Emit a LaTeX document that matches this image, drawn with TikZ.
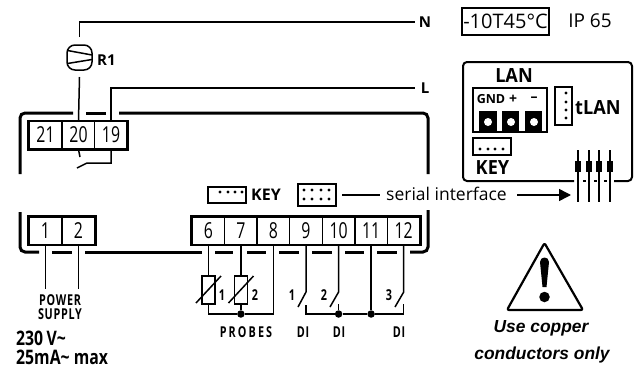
\documentclass[tikz,border=0pt]{standalone}
\usepackage{fontspec}
\usepackage{tikz}
\usetikzlibrary{calc,arrows.meta,positioning}
\newfontfamily\condfont[FakeStretch=0.72]{Open Sans}
\newfontfamily\tagfont[FakeStretch=0.72,LetterSpace=5]{Open Sans}
\newfontfamily\probefont[FakeStretch=0.72,LetterSpace=14]{Open Sans}
\newfontfamily\ratefont[FakeStretch=0.79]{Open Sans}
\newfontfamily\bigfont[FakeStretch=0.93]{Open Sans}
\newfontfamily\openfont{Open Sans}
\newfontfamily\arialfont{Liberation Sans}
\tikzstyle{terminal}=[draw,line width=1.3pt,minimum width=32.6pt,minimum height=28pt,inner sep=0pt,font=\condfont\fontsize{22}{22}\selectfont]
\tikzstyle{frame}=[line width=3pt,line cap=butt,line join=miter]
\tikzstyle{case}=[line width=3pt]
\tikzstyle{wire}=[line width=1.5pt]
\tikzstyle{resistor}=[draw,line width=1.5pt,minimum width=13pt,minimum height=28pt,inner sep=0pt]
\tikzstyle{junction}=[circle,fill=black,minimum size=7.5pt,inner sep=0pt]
\tikzstyle{pin}=[circle,fill=black,minimum size=3.2pt,inner sep=0pt]
\tikzstyle{plug}=[draw,line width=1.4pt,inner sep=0pt]
\tikzstyle{tag}=[inner sep=0pt,font=\tagfont\bfseries\fontsize{15}{15}\selectfont]
\tikzstyle{small}=[inner sep=0pt,font=\openfont\bfseries\fontsize{15}{15}\selectfont]
\tikzstyle{big}=[inner sep=0pt,font=\bigfont\bfseries\fontsize{19.5}{19.5}\selectfont]
\tikzstyle{rating}=[inner sep=0pt,anchor=west,font=\ratefont\bfseries\fontsize{20}{20}\selectfont]
\tikzstyle{screw}=[fill=black,inner sep=0pt,minimum height=21pt]
\tikzstyle{hole}=[circle,fill=white,minimum size=8pt,inner sep=0pt]
\tikzstyle{note}=[inner sep=0pt,font=\arialfont\bfseries\itshape\fontsize{17.4}{17.4}\selectfont]
\begin{document}
\begin{tikzpicture}[x=1pt,y=-1pt]
\useasboundingbox (0,0) rectangle (641,370);
% case
\draw[case,rounded corners=5pt] (20,174) -- (20,113) -- (73,113);
\draw[case] (86,113) -- (106,113);
\draw[case,rounded corners=5pt] (119,113) -- (428,113) -- (428,174);
\draw[case,rounded corners=5pt] (20,212) -- (20,252) -- (39,252);
\draw[case] (52,252) -- (72,252);
\draw[case] (85,252) -- (202,252);
\draw[case] (215,252) -- (233,252);
\draw[case] (247,252) -- (266,252);
\draw[case] (279,252) -- (299,252);
\draw[case] (312,252) -- (332,252);
\draw[case] (345,252) -- (364,252);
\draw[case] (377,252) -- (397,252);
\draw[case,rounded corners=5pt] (410,252) -- (428,252) -- (428,210);
% terminals
\draw (45.5, 135) node [terminal] (t21) {21};
\draw (78.5, 135) node [terminal] (t20) {20};
\draw (111, 135) node [terminal] (t19) {19};
\draw (45.5, 231) node [terminal] (t1) {1};
\draw (78.5, 231) node [terminal] (t2) {2};
\draw (208.3, 231) node [terminal] (t6) {6};
\draw (240.9, 231) node [terminal] (t7) {7};
\draw (273.4, 231) node [terminal] (t8) {8};
\draw (306, 231) node [terminal] (t9) {9};
\draw (338.6, 231) node [terminal] (t10) {10};
\draw (371.1, 231) node [terminal] (t11) {11};
\draw (403.7, 231) node [terminal] (t12) {12};
\draw[frame] (t21.north west) -- (t21.south west) -- (t19.south east) -- (t19.north east);
\draw[frame] (t1.south west) -- (t1.north west) -- (t2.north east) -- (t2.south east);
\draw[frame] (t6.south west) -- (t6.north west) -- (t12.north east) -- (t12.south east);
% supply side
\draw (60, 300) node [tag] (power) {POWER};
\draw (60, 314) node [tag] (supply) {SUPPLY};
\coordinate (c1) at (45.5,289);
\coordinate (c2) at (78.5,289);
\draw[wire] (t1.south) -- (c1);
\draw[wire] (t2.south) -- (c2);
\draw (16, 338) node [rating] (volt) {230\,V\char"007E};
\draw (16, 357) node [rating] (amp) {25mA\char"007E{} max};
% N, L and R1
\draw (79.5, 57.5) node [draw,line width=1.5pt,rounded corners=8pt,minimum width=25pt,minimum height=25pt,inner sep=0pt] (r1) {};
\draw[wire] (67.5,50.5) -- (92,55);
\draw[wire] (67.5,63.5) -- (92,59.5);
\draw (97, 60) node [small,anchor=west] (r1label) {R1};
\draw (425, 22) node [small] (n) {N};
\draw (425, 88) node [small] (l) {L};
\coordinate (nend) at (79.5,37);
\coordinate (rlow) at (79.5,77);
\draw[wire] (nend) |- (415,22);
\draw[wire] (rlow) -- (t20.north);
\draw[wire] (t19.north) |- (415,88);
% relay contact
\coordinate (s20) at (80,157);
\coordinate (s19) at (77,168);
\draw[wire] (t20.south) -- (s20);
\draw[wire] (t19.south) -- (111,163) -- (87,163) -- (s19);
% probes
\draw (208.3, 290) node [resistor] (p1) {};
\draw (240.9, 290) node [resistor] (p2) {};
\draw (240.9, 314) node [junction] (j1) {};
\draw[wire] (t6.south) -- (p1.north);
\draw[wire] (t7.south) -- (p2.north);
\draw[wire] (p1.south) |- (j1);
\draw[wire] (p2.south) -- (j1);
\draw[wire] (j1) -| (t8.south);
\draw[wire] (196,303) -- (221,276);
\draw[wire] (228.5,303) -- (253.5,276);
\draw (222, 295) node [tag] (p1label) {1};
\draw (255, 295) node [tag] (p2label) {2};
\draw (246, 332) node [inner sep=0pt,font=\probefont\bfseries\fontsize{15}{15}\selectfont] (probes) {PROBES};
% digital inputs
\draw (338.6, 314) node [junction] (j2) {};
\draw (371.1, 314) node [junction] (j3) {};
\coordinate (a9) at (306,292);
\coordinate (a10) at (338.6,292);
\coordinate (a12) at (403.7,292);
\coordinate (b9) at (306,305);
\coordinate (b10) at (338.6,304);
\coordinate (b12) at (403.7,304);
\draw[wire] (t9.south) -- (a9) -- (298,307);
\draw[wire] (t10.south) -- (a10) -- (330,307);
\draw[wire] (t12.south) -- (a12) -- (395,307);
\draw[wire] (t11.south) -- (j3);
\draw[wire] (b10) -- (j2);
\draw[wire] (b9) |- (j2);
\draw[wire] (j2) -- (j3);
\draw[wire] (j3) -| (b12);
\draw (292, 295) node [tag] (d1label) {1};
\draw (324, 295) node [tag] (d2label) {2};
\draw (389, 295) node [tag] (d3label) {3};
\draw (303, 332) node [tag] (di1) {DI};
\draw (339, 332) node [tag] (di2) {DI};
\draw (399, 332) node [tag] (di3) {DI};
% key and serial plugs
\draw (227, 195) node [plug,minimum width=38pt,minimum height=16pt] (key) {};
\draw (220, 192) node [pin] {};
\draw (228, 192) node [pin] {};
\draw (235, 192) node [pin] {};
\draw (242, 192) node [pin] {};
\draw (251, 194.5) node [small,anchor=west,font=\openfont\bfseries\fontsize{16}{16}\selectfont] (keylabel) {KEY};
\draw (317, 195) node [plug,minimum width=38pt,minimum height=22pt] (serial) {};
\draw (304, 190) node [pin] {};
\draw (312, 190) node [pin] {};
\draw (321, 190) node [pin] {};
\draw (329, 190) node [pin] {};
\draw (304, 199) node [pin] {};
\draw (312, 199) node [pin] {};
\draw (321, 199) node [pin] {};
\draw (329, 199) node [pin] {};
\draw (386, 194) node [anchor=west,inner sep=0pt,font=\openfont\fontsize{17.5}{17.5}\selectfont] (iface) {serial interface};
\draw[line width=1.5pt] (342,195) -- (380,195);
\coordinate (tip) at (571,195);
\draw[line width=1.5pt,-{Triangle[length=12pt,width=12pt]}] (517,195) -- (tip);
% temperature and protection
\draw (505.5, 21.5) node [draw,line width=1.2pt,minimum width=87pt,minimum height=27pt,inner sep=0pt,font=\openfont\fontsize{20}{20}\selectfont] (temp) {-10T45°C};
\draw (590, 21) node [inner sep=0pt,font=\openfont\fontsize{19}{19}\selectfont] (ip) {IP 65};
% board
\draw[line width=2pt,rounded corners=4pt] (574,181) -- (463,181) -- (463,62) -- (632,62) -- (632,181) -- (614,181);
\draw[line width=2pt] (583,181) -- (586,181);
\draw[line width=2pt] (594,181) -- (597,181);
\draw[line width=2pt] (604,181) -- (607,181);
\draw (514, 76) node [big] (lan) {LAN};
\draw (510, 110) node [draw,line width=1.3pt,minimum width=74pt,minimum height=44pt,inner sep=0pt] (lanbox) {};
\draw (491, 99) node [inner sep=0pt,font=\openfont\bfseries\fontsize{12.5}{12.5}\selectfont] (gnd) {GND};
\draw (513, 99) node [inner sep=0pt,font=\openfont\bfseries\fontsize{14}{14}\selectfont] (plus) {+};
\draw (534, 99) node [inner sep=0pt,font=\openfont\bfseries\fontsize{14}{14}\selectfont] (minus) {–};
\draw (488, 121.5) node [screw,minimum width=18pt] (s1) {};
\draw (510.5, 121.5) node [screw,minimum width=17pt] (s2) {};
\draw (533.5, 121.5) node [screw,minimum width=17pt] (s3) {};
\draw (488, 122) node [hole] {};
\draw (511, 122) node [hole] {};
\draw (534, 122) node [hole] {};
\draw (563.5, 106) node [plug,minimum width=17pt,minimum height=38pt] (tlanbox) {};
\draw (566, 93) node [pin] {};
\draw (566, 102) node [pin] {};
\draw (566, 110) node [pin] {};
\draw (566, 118) node [pin] {};
\draw (575, 108) node [big,anchor=west] (tlan) {tLAN};
\draw (492, 146.5) node [plug,minimum width=38pt,minimum height=17pt] (key2) {};
\draw (480, 149) node [pin] {};
\draw (488, 149) node [pin] {};
\draw (495, 149) node [pin] {};
\draw (503, 149) node [pin] {};
\draw (492.5, 168) node [big] (key2label) {KEY};
% pins
\coordinate (a1) at (578,150);
\coordinate (a2) at (589,150);
\coordinate (a3) at (599,150);
\coordinate (a4) at (610,150);
\coordinate (b1) at (578,202);
\coordinate (b2) at (589,202);
\coordinate (b3) at (599,202);
\coordinate (b4) at (610,202);
\draw[wire] (a1) -- (b1);
\draw[wire] (a2) -- (b2);
\draw[wire] (a3) -- (b3);
\draw[wire] (a4) -- (b4);
\draw (578, 166.5) node [fill=black,minimum width=6pt,minimum height=11pt,inner sep=0pt] (h1) {};
\draw (589, 166.5) node [fill=black,minimum width=6pt,minimum height=11pt,inner sep=0pt] (h2) {};
\draw (599, 166.5) node [fill=black,minimum width=6pt,minimum height=11pt,inner sep=0pt] (h3) {};
\draw (610, 166.5) node [fill=black,minimum width=6pt,minimum height=11pt,inner sep=0pt] (h4) {};
% warning
\draw[line width=2.2pt,line join=round,rounded corners=2pt] (544.5,243) -- (583,310) -- (507,310) -- cycle;
\fill (540,262) .. controls (540,256) and (549,256) .. (549,262) -- (546.5,287) -- (542.5,287) -- cycle;
\draw (544.5, 297) node [circle,fill=black,minimum size=10.5pt,inner sep=0pt] (dot) {};
\draw (541, 328) node [note] (use) {Use copper};
\draw (542, 355) node [note] (cond) {conductors only};
\end{tikzpicture}
\end{document}
